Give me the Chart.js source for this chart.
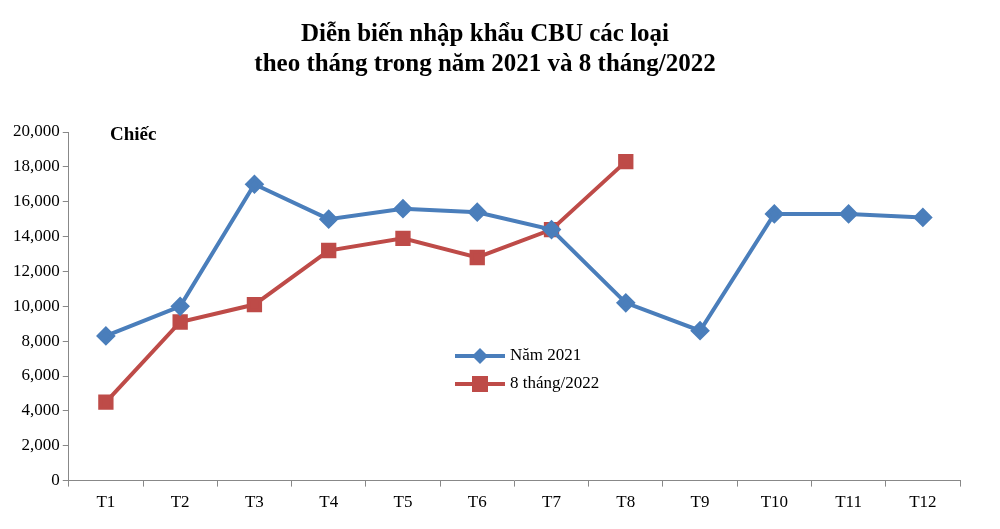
<!DOCTYPE html><html><head><meta charset="utf-8">
<script src="https://cdn.jsdelivr.net/npm/chart.js@4"></script>
<style>body{margin:0;background:#fff}</style></head><body>
<canvas id="c" width="1000" height="529"></canvas>
<script>
const categories=["T1","T2","T3","T4","T5","T6","T7","T8","T9","T10","T11","T12"];
const series2021=[8300,10000,17000,15000,15600,15400,14400,10200,8600,15300,15300,15100];
const series2022=[4500,9100,10100,13200,13900,12800,14400,18300];
const BLUE="#4a7ebb",RED="#be4b48",F="'Liberation Serif', serif";
const extra={id:"extra",afterDraw(ch){const c=ch.ctx;c.save();
c.fillStyle="#000";c.font="bold 19px "+F;c.textAlign="left";c.fillText("Chiếc",110,140);
const items=[["Năm 2021",BLUE,"rectRot"],["8 tháng/2022",RED,"rect"]];
items.forEach((it,i)=>{const y=356+i*28;c.strokeStyle=it[1];c.lineWidth=4;c.beginPath();c.moveTo(455,y);c.lineTo(505,y);c.stroke();
c.fillStyle=it[1];c.beginPath();if(it[2]=="rect"){c.rect(472,y-8,16,16)}else{c.moveTo(480,y-8);c.lineTo(488,y);c.lineTo(480,y+8);c.lineTo(472,y)}c.fill();
c.fillStyle="#000";c.font="17px "+F;c.textBaseline="middle";c.fillText(it[0],510,y);});
c.restore();}};
new Chart(document.getElementById("c"),{type:"line",data:{labels:categories,datasets:[
{label:"Năm 2021",data:series2021,borderColor:BLUE,backgroundColor:BLUE,borderWidth:4,pointStyle:"rectRot",pointRadius:7,pointHoverRadius:7},
{label:"8 tháng/2022",data:series2022,borderColor:RED,backgroundColor:RED,borderWidth:4,pointStyle:"rect",pointRadius:8,pointHoverRadius:8}]},
options:{responsive:false,animation:false,devicePixelRatio:1,layout:{padding:{top:10,right:40,left:10,bottom:10}},
plugins:{legend:{display:false},tooltip:{enabled:false},title:{display:true,text:["Diễn biến nhập khẩu CBU các loại","theo tháng trong năm 2021 và 8 tháng/2022"],color:"#000",font:{family:F,size:25,weight:"bold"},padding:{top:10,bottom:52},lineHeight:1.45}},
scales:{x:{offset:true,grid:{offset:true,drawOnChartArea:false,color:"#888",tickLength:6},border:{color:"#888"},ticks:{color:"#000",font:{family:F,size:17},padding:6}},
y:{min:0,max:20000,ticks:{stepSize:2000,color:"#000",font:{family:F,size:17},callback:v=>v.toLocaleString("en-US")},grid:{drawOnChartArea:false,color:"#888",tickLength:6},border:{color:"#888"}}}},
plugins:[extra]});
</script></body></html>
